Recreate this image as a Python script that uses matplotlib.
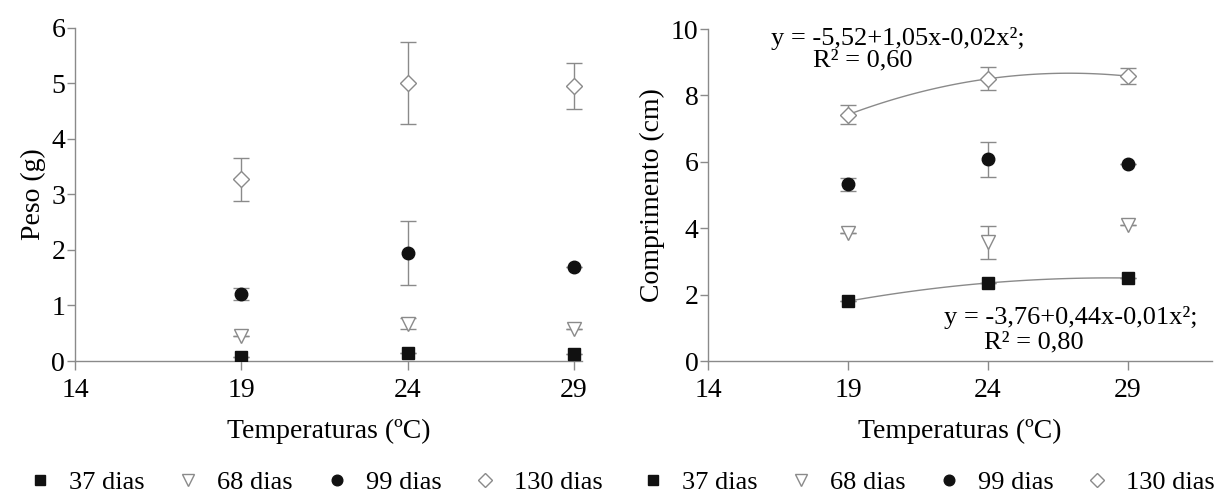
import numpy as np
import matplotlib
matplotlib.use("Agg")
import matplotlib.pyplot as plt

plt.rcParams['font.family'] = ['Liberation Serif', 'DejaVu Serif']

temps = [19, 24, 29]
series_labels = ["37 dias", "68 dias", "99 dias", "130 dias"]

# Peso (g): means and error bar half-widths
peso_37 = [0.07, 0.14, 0.12]
peso_37_err = [0.0, 0.0, 0.0]
peso_68 = [0.45, 0.67, 0.58]
peso_68_err = [0.0, 0.10, 0.0]
peso_99 = [1.20, 1.94, 1.70]
peso_99_err = [0.11, 0.58, 0.0]
peso_130 = [3.27, 5.00, 4.95]
peso_130_err = [0.39, 0.74, 0.42]

# Comprimento (cm)
comp_37 = [1.80, 2.35, 2.50]
comp_37_err = [0.0, 0.0, 0.0]
comp_68 = [3.85, 3.57, 4.10]
comp_68_err = [0.0, 0.50, 0.0]
comp_99 = [5.32, 6.07, 5.93]
comp_99_err = [0.19, 0.52, 0.0]
comp_130 = [7.42, 8.50, 8.58]
comp_130_err = [0.28, 0.35, 0.24]

eq_130 = "y = -5,52+1,05x-0,02x²;"
r2_130 = "R² = 0,60"
eq_37 = "y = -3,76+0,44x-0,01x²;"
r2_37 = "R² = 0,80"

FS = 20
GRAY = "#8a8a8a"
styles = [
    dict(marker="s", mfc="#111111", mec="#111111", ms=8.5),
    dict(marker="v", mfc="white", mec=GRAY, ms=9.5, mew=1.0),
    dict(marker="o", mfc="#111111", mec="#111111", ms=9),
    dict(marker="D", mfc="white", mec=GRAY, ms=8.5, mew=1.0),
]

fig = plt.figure(figsize=(12.25, 4.95), dpi=100)
ax1 = fig.add_axes([0.0612, 0.2707, 0.414, 0.673])
ax2 = fig.add_axes([0.578, 0.2707, 0.4114, 0.6707])


def style_axes(ax, ylim, yticks, xmax):
    ax.set_xlim(14, xmax)
    ax.set_ylim(*ylim)
    ax.set_xticks([14, 19, 24, 29])
    ax.set_yticks(yticks)
    for s in ["top", "right"]:
        ax.spines[s].set_visible(False)
    for s in ["left", "bottom"]:
        ax.spines[s].set_color(GRAY)
        ax.spines[s].set_linewidth(1.0)
    ax.tick_params(direction="out", width=1.0, color=GRAY, labelsize=FS)
    ax.tick_params(axis="x", length=6.5, pad=6)
    ax.tick_params(axis="y", length=6, pad=1)
    ax.set_xlabel("Temperaturas (ºC)", fontsize=FS, labelpad=11)


def draw(ax, data):
    handles = []
    for (vals, errs), st, lab in zip(data, styles, series_labels):
        ax.errorbar(temps, vals, yerr=errs, fmt="none", ecolor=GRAY,
                    elinewidth=1.0, capsize=5.5, capthick=1.0, zorder=2)
        h, = ax.plot(temps, vals, linestyle="none", label=lab, zorder=3, **st)
        handles.append(h)
    return handles


h1 = draw(ax1, [(peso_37, peso_37_err), (peso_68, peso_68_err),
                (peso_99, peso_99_err), (peso_130, peso_130_err)])
style_axes(ax1, (0, 6), range(0, 7), 29.25)
ax1.set_ylabel("Peso (g)", fontsize=FS, labelpad=4)

h2 = draw(ax2, [(comp_37, comp_37_err), (comp_68, comp_68_err),
                (comp_99, comp_99_err), (comp_130, comp_130_err)])
style_axes(ax2, (0, 10), range(0, 11, 2), 32)
ax2.set_ylabel("Comprimento (cm)", fontsize=FS, labelpad=4)

# quadratic fits through the means
xs = np.linspace(19, 29, 100)
for vals in (comp_130, comp_37):
    coef = np.polyfit(temps, vals, 2)
    ax2.plot(xs, np.polyval(coef, xs), color=GRAY, lw=1.0, zorder=1)

ax2.text(16.26, 9.72, eq_130, fontsize=19, ha="left", va="center")
ax2.text(17.76, 9.06, r2_130, fontsize=19, ha="left", va="center")
ax2.text(22.42, 1.3, eq_37, fontsize=19, ha="left", va="center")
ax2.text(23.86, 0.57, r2_37, fontsize=19, ha="left", va="center")

leg_kw = dict(ncol=4, frameon=False, prop={"size": 19}, handletextpad=0.6,
              columnspacing=1.15, markerscale=0.85, handlelength=1.0,
              borderaxespad=0, borderpad=0)
fig.legend(handles=h1, loc="center", bbox_to_anchor=(0.257, 0.026), **leg_kw)
fig.legend(handles=h2, loc="center", bbox_to_anchor=(0.757, 0.026), **leg_kw)

fig.savefig("out.png", dpi=100, facecolor="white")
